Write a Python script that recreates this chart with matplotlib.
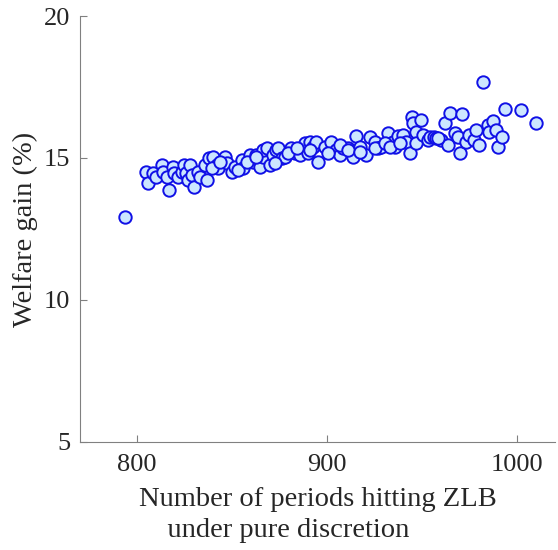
import matplotlib.pyplot as plt

# number of periods at the ZLB under pure discretion
zlb_periods = [
    793.7, 804.7, 805.9, 808.6, 810.0, 813.0, 813.8, 815.6, 817.0, 818.7,
    819.4, 821.7, 823.5, 824.7, 825.7, 826.9, 827.8, 828.7, 829.9, 832.2,
    833.1, 835.7, 836.6, 838.0, 840.1, 841.8, 842.7, 846.2, 847.1, 849.7,
    851.5, 855.0, 855.8, 859.3, 861.1, 862.8, 864.6, 866.3, 866.3, 868.1,
    869.8, 871.6, 873.3, 874.2, 876.0, 877.7, 881.2, 882.9, 885.6, 888.2,
    889.9, 890.8, 892.6, 894.3, 895.2, 898.7, 902.2, 904.8, 906.6, 908.3,
    910.9, 913.6, 915.0, 917.1, 920.6, 922.3, 924.9, 926.7, 928.5, 931.9,
    934.6, 935.4, 937.2, 939.8, 941.6, 943.6, 944.6, 945.1, 946.7, 946.5,
    949.5, 950.3, 952.9, 953.8, 956.4, 957.3, 960.0, 961.7, 963.4, 964.7,
    967.0, 968.7, 969.9, 971.0, 973.1, 974.8, 977.4, 978.3, 979.7, 981.8,
    984.4, 985.3, 987.1, 988.8, 989.7, 992.0, 993.7, 1002.0, 1009.8,
    839.2, 843.6, 853.2, 857.6, 862.8, 872.5, 879.4, 884.2, 890.8, 900.4,
    906.6, 910.9, 917.1, 924.9, 930.2, 932.8, 938.1, 958.2,
]

# welfare gain in percent
welfare_gain = [
    12.93, 14.52, 14.11, 14.46, 14.34, 14.75, 14.52, 14.34, 13.87, 14.69,
    14.46, 14.34, 14.52, 14.75, 14.46, 14.23, 14.75, 14.40, 13.99, 14.52,
    14.34, 14.75, 14.23, 14.99, 15.05, 14.75, 14.64, 15.05, 14.81, 14.52,
    14.69, 14.93, 14.64, 15.11, 14.87, 15.11, 14.69, 15.05, 15.28, 15.34,
    14.75, 15.11, 15.28, 15.34, 14.99, 15.05, 15.34, 15.17, 15.11, 15.52,
    15.17, 15.57, 15.40, 15.57, 14.87, 15.40, 15.57, 15.28, 15.11, 15.34,
    15.34, 15.05, 15.76, 15.40, 15.11, 15.75, 15.57, 15.34, 15.40, 15.88,
    15.57, 15.40, 15.78, 15.81, 15.57, 15.19, 16.45, 16.22, 15.93, 15.54,
    16.34, 15.81, 15.63, 15.75, 15.75, 15.69, 15.63, 16.22, 15.46, 16.57,
    15.87, 15.75, 15.17, 16.55, 15.57, 15.81, 15.63, 15.99, 15.46, 17.69,
    16.16, 15.93, 16.31, 15.99, 15.38, 15.75, 16.72, 16.69, 16.22,
    14.64, 14.87, 14.58, 14.87, 15.05, 14.81, 15.17, 15.34, 15.28, 15.17,
    15.46, 15.28, 15.22, 15.34, 15.52, 15.40, 15.52, 15.69,
]

x_ticks = [800, 900, 1000]
y_ticks = [5, 10, 15, 20]

plt.rcParams['font.family'] = ['Liberation Serif', 'DejaVu Serif']

fig = plt.figure(figsize=(5.58, 5.5), dpi=100)
ax = fig.add_axes([0.1434, 0.1964, 0.852, 0.7745])

ax.scatter(zlb_periods, welfare_gain, s=80, facecolor='#cce6ff',
           edgecolor='#1010e6', linewidths=1.4, zorder=3, clip_on=False)

ax.set_xlim(770, 1020)
ax.set_ylim(5, 20)
ax.set_xticks(x_ticks)
ax.set_yticks(y_ticks)

# matlab-like box off, ticks inward
for side in ['top', 'right']:
    ax.spines[side].set_visible(False)
for side in ['left', 'bottom']:
    ax.spines[side].set_color('#808080')
    ax.spines[side].set_linewidth(0.8)
ax.tick_params(direction='in', length=5, width=0.8, color='#808080',
               labelcolor='#262626', labelsize=19, pad=7)
ax.tick_params(axis='x', pad=9)

ax.set_xlabel('Number of periods hitting ZLB\n    under pure discretion',
              fontsize=20.5, color='#262626', labelpad=7.5, linespacing=1.3,
              multialignment='left')
ax.set_ylabel('Welfare gain (%)', fontsize=20.5, color='#262626', labelpad=4)

fig.savefig('out.png', dpi=100)
